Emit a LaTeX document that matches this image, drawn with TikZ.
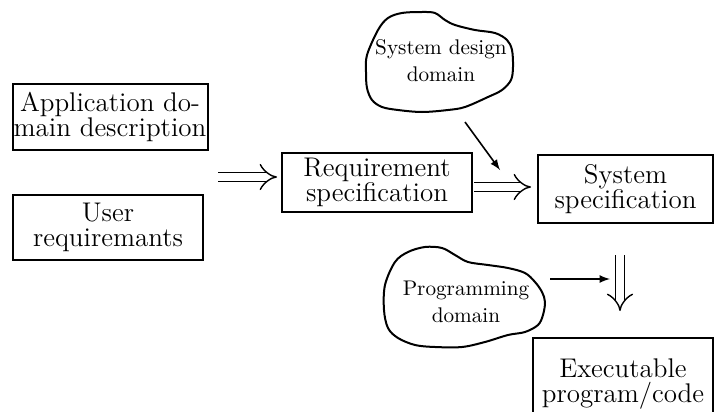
\documentclass[tikz,border=0pt]{standalone}
\usepackage{tikz}
\usetikzlibrary{arrows,calc,positioning}
\tikzset{>=latex}
\tikzset{
  box/.style={draw, line width=1pt, align=center, inner sep=0pt,
    font=\fontsize{13.5}{12.5}\selectfont},
  blob/.style={line width=1pt, line join=round},
  blobtext/.style={align=center, inner sep=0pt, font=\fontsize{10.6}{13.5}\selectfont},
  dbl/.style={double, double distance=4pt, line width=0.7pt, -implies},
  thinarrow/.style={->, line width=0.8pt}
}

\begin{document}
\begin{tikzpicture}[x=0.5pt, y=-0.5pt]
  \fill[white] (0,0) rectangle (714,412);
  \clip (0,0) rectangle (714,412);

  % the boxes
  \node[box, minimum width=97.5pt, minimum height=33pt] (app) at (110,117)
    {Application do-\\main description};
  \node[box, minimum width=95pt, minimum height=32.5pt] (user) at (108,227.5)
    {User\\requiremants};
  \node[box, minimum width=95pt, minimum height=29.5pt] (req) at (377,182.5)
    {Requirement\\specification};
  \node[box, minimum width=87.5pt, minimum height=34pt] (sys) at (625.5,189)
    {System\\specification};
  \node[box, minimum width=90pt, minimum height=46pt] (exe) at (623,384)
    {Executable\\program/code};

  % the two domains
  \draw[blob] plot[smooth cycle, tension=0.55] coordinates {
    (367,55) (378,30) (388,18) (402,13) (422,12) (435,13) (445,20)
    (455,25) (475,30) (495,33) (507,40) (512,50) (513,67) (511,80)
    (502,90) (488,97) (465,107) (448,110) (422,112) (398,110)
    (382,107) (372,100) (367,88) (366,72)};
  \node[blobtext] (sysdom) at (441,61) {System design\\domain};

  \draw[blob] plot[smooth cycle, tension=0.55] coordinates {
    (385,285) (395,262) (408,252) (425,247) (442,248) (455,255)
    (468,262) (488,265) (508,268) (525,273) (535,282) (542,292)
    (545,302) (543,315) (538,325) (525,332) (508,335) (485,342)
    (462,347) (435,347) (415,345) (398,338) (388,328) (384,310)};
  \node[blobtext] (progdom) at (466,302) {Programming\\domain};

  % flow between the boxes
  \coordinate (inp) at (218,177);
  \coordinate (mid) at (500,187);
  \coordinate (dn) at (620,255);
  \draw[dbl, shorten >=2pt] (inp) -- (req.west |- inp);
  \draw[dbl, shorten <=0.5pt, shorten >=3pt] (req.east |- mid) -- (sys.west |- mid);
  \draw[dbl, shorten >=13pt] (dn) -- (exe.north -| dn);

  % domain inputs
  \coordinate (sdfoot) at (465,122);
  \coordinate (sdtip) at (500,170);
  \coordinate (pdfoot) at (550,279);
  \coordinate (pdtip) at (610,279);
  \draw[thinarrow] (sdfoot) -- (sdtip);
  \draw[thinarrow] (pdfoot) -- (pdtip);
\end{tikzpicture}
\end{document}
